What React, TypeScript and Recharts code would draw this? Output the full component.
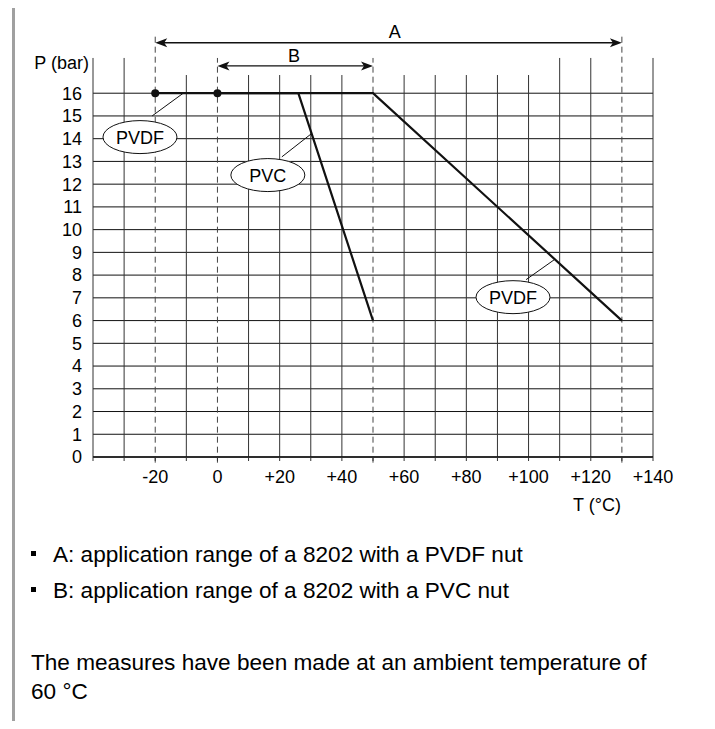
import React from 'react';
import {
  LineChart,
  Line,
  XAxis,
  YAxis,
  ReferenceLine,
  ReferenceDot,
} from 'recharts';

// temperature (°C) / pressure (bar) curves
const pvdfCurve = [
  { t: -20, p: 16 },
  { t: 50, p: 16 },
  { t: 130, p: 6 },
];
const pvcCurve = [
  { t: 0, p: 16 },
  { t: 26, p: 16 },
  { t: 50, p: 6 },
];

const xTicks = [-40, -30, -20, -10, 0, 10, 20, 30, 40, 50, 60, 70, 80, 90, 100, 110, 120, 130, 140];
const xLabelled = [-20, 0, 20, 40, 60, 80, 100, 120, 140];
const yTicks = [0, 1, 2, 3, 4, 5, 6, 7, 8, 9, 10, 11, 12, 13, 14, 15, 16];

const gridShort = [-10, 10, 20, 30, 40, 60, 70, 80, 90, 100];
const gridTall = [-40, -30, 110, 120, 140];
const dashedShort = [0, 50];
const dashedTall = [-20, 130];

const rangeA = [-20, 130];
const rangeB = [0, 50];

const FONT = '"Liberation Sans", Arial, Helvetica, sans-serif';
const INK = '#111';
const FRAME = '#a0a0a0';
const W = 715;
const H = 729;

const fmtX = (v: number) => {
  if (!xLabelled.includes(v)) return '';
  return v > 0 ? `+${v}` : `${v}`;
};

const arrowShape = (props: any) => {
  const { x1, y1, x2, y2 } = props;
  const h = 12;
  const w = 4.5;
  return (
    <g>
      <line x1={x1 + 4} y1={y1} x2={x2 - 4} y2={y2} stroke={INK} strokeWidth={1.3} />
      <polygon points={`${x1},${y1} ${x1 + h},${y1 - w} ${x1 + h - 3},${y1} ${x1 + h},${y1 + w}`} fill={INK} />
      <polygon points={`${x2},${y2} ${x2 - h},${y2 - w} ${x2 - h + 3},${y2} ${x2 - h},${y2 + w}`} fill={INK} />
    </g>
  );
};

const textShape = (label: string, anchor: string = 'middle') => (props: any) => (
  <text
    x={props.cx}
    y={props.cy}
    textAnchor={anchor}
    dominantBaseline="central"
    fontSize={18}
    fontFamily={FONT}
    fill="#000"
  >
    {label}
  </text>
);

const bubbleShape = (label: string) => (props: any) => (
  <g>
    <ellipse cx={props.cx} cy={props.cy} rx={37} ry={16.5} fill="#fff" stroke={INK} strokeWidth={1} />
    <text
      x={props.cx}
      y={props.cy + 1}
      textAnchor="middle"
      dominantBaseline="central"
      fontSize={18}
      fontFamily={FONT}
      fill="#000"
    >
      {label}
    </text>
  </g>
);

// page frame (open at the bottom), drawn in page pixels
const frameShape = () => (
  <polyline
    points={`13.5,${H} 13.5,4.5 709.5,4.5 709.5,${H}`}
    fill="none"
    stroke={FRAME}
    strokeWidth={3}
  />
);

const firstDot = (p: any) =>
  p.index === 0 ? (
    <circle key={`d${p.index}`} cx={p.cx} cy={p.cy} r={4} fill={INK} />
  ) : (
    <g key={`d${p.index}`} />
  );

const Bullet = ({ top }: { top: number }) => (
  <div
    style={{
      position: 'absolute',
      left: 31,
      top,
      width: 5,
      height: 5,
      background: '#000',
    }}
  />
);

const textLine = (top: number, left: number): React.CSSProperties => ({
  position: 'absolute',
  left,
  top,
  fontFamily: FONT,
  fontSize: 22.6,
  lineHeight: '22px',
  color: '#000',
  whiteSpace: 'nowrap',
});

export default function App() {
  return (
    <div style={{ position: 'relative', margin: -8, width: W, height: H, background: '#fff', overflow: 'hidden' }}>
      <div style={{ position: 'absolute', left: 0, top: 0 }}>
        <LineChart width={W} height={H} margin={{ top: 25, right: 62, bottom: 242, left: 0 }}>
          <XAxis
            type="number"
            dataKey="t"
            domain={[-40, 140]}
            ticks={xTicks}
            interval={0}
            allowDataOverflow
            tickFormatter={fmtX}
            tickSize={4}
            tickMargin={9}
            height={30}
            axisLine={{ stroke: INK, strokeWidth: 1.5 }}
            tickLine={{ stroke: '#333' }}
            tick={{ fontSize: 18, fill: '#000', fontFamily: FONT }}
          />
          <YAxis
            type="number"
            dataKey="p"
            domain={[0, 19]}
            ticks={yTicks}
            interval={0}
            allowDataOverflow
            width={93}
            axisLine={false}
            tickLine={false}
            tickSize={6}
            tickMargin={5}
            tick={{ fontSize: 18, fill: '#000', fontFamily: FONT }}
          />

          <ReferenceDot x={0} y={0} r={0} shape={frameShape} ifOverflow="visible" />

          {yTicks.map((p) => (
            <ReferenceLine key={`h${p}`} y={p} stroke={INK} strokeWidth={1} ifOverflow="visible" />
          ))}
          {gridShort.map((t) => (
            <ReferenceLine key={`gs${t}`} segment={[{ x: t, y: 0 }, { x: t, y: 16.8 }]} stroke="#333" strokeWidth={1} ifOverflow="visible" />
          ))}
          {gridTall.map((t) => (
            <ReferenceLine key={`gt${t}`} segment={[{ x: t, y: 0 }, { x: t, y: 17.55 }]} stroke="#333" strokeWidth={1} ifOverflow="visible" />
          ))}
          {dashedShort.map((t) => (
            <ReferenceLine key={`ds${t}`} segment={[{ x: t, y: -0.25 }, { x: t, y: 17.55 }]} stroke="#444" strokeDasharray="6 4" strokeWidth={1} ifOverflow="visible" />
          ))}
          {dashedTall.map((t) => (
            <ReferenceLine key={`dt${t}`} segment={[{ x: t, y: -0.25 }, { x: t, y: 18.5 }]} stroke="#444" strokeDasharray="6 4" strokeWidth={1} ifOverflow="visible" />
          ))}

          <ReferenceLine segment={[{ x: rangeA[0], y: 18.22 }, { x: rangeA[1], y: 18.22 }]} shape={arrowShape} ifOverflow="visible" />
          <ReferenceLine segment={[{ x: rangeB[0], y: 17.2 }, { x: rangeB[1], y: 17.2 }]} shape={arrowShape} ifOverflow="visible" />
          <ReferenceDot x={57} y={18.68} r={0} shape={textShape('A')} ifOverflow="visible" />
          <ReferenceDot x={24.6} y={17.63} r={0} shape={textShape('B')} ifOverflow="visible" />
          <ReferenceDot x={-50.1} y={17.32} r={0} shape={textShape('P (bar)')} ifOverflow="visible" />
          <ReferenceDot x={122} y={-2.11} r={0} shape={textShape('T (°C)')} ifOverflow="visible" />

          <Line data={pvdfCurve} dataKey="p" stroke={INK} strokeWidth={2.2} dot={firstDot} activeDot={false} isAnimationActive={false} />
          <Line data={pvcCurve} dataKey="p" stroke={INK} strokeWidth={2.2} dot={firstDot} activeDot={false} isAnimationActive={false} />

          {/* leader lines to the material callouts */}
          <ReferenceLine segment={[{ x: -21, y: 15 }, { x: -11, y: 16 }]} stroke={INK} strokeWidth={1} ifOverflow="visible" />
          <ReferenceLine segment={[{ x: 20.7, y: 13.2 }, { x: 30.4, y: 14.24 }]} stroke={INK} strokeWidth={1} ifOverflow="visible" />
          <ReferenceLine segment={[{ x: 99.2, y: 7.8 }, { x: 108.5, y: 8.7 }]} stroke={INK} strokeWidth={1} ifOverflow="visible" />
          <ReferenceDot x={-24.9} y={14.07} r={0} shape={bubbleShape('PVDF')} ifOverflow="visible" />
          <ReferenceDot x={16.2} y={12.4} r={0} shape={bubbleShape('PVC')} ifOverflow="visible" />
          <ReferenceDot x={95} y={7.03} r={0} shape={bubbleShape('PVDF')} ifOverflow="visible" />
        </LineChart>
      </div>

      <Bullet top={551} />
      <div style={textLine(544, 53)}>A: application range of a 8202 with a PVDF nut</div>
      <Bullet top={587} />
      <div style={textLine(580, 53)}>B: application range of a 8202 with a PVC nut</div>
      <div style={textLine(652, 31)}>The measures have been made at an ambient temperature of</div>
      <div style={textLine(681, 31)}>60 °C</div>
    </div>
  );
}
